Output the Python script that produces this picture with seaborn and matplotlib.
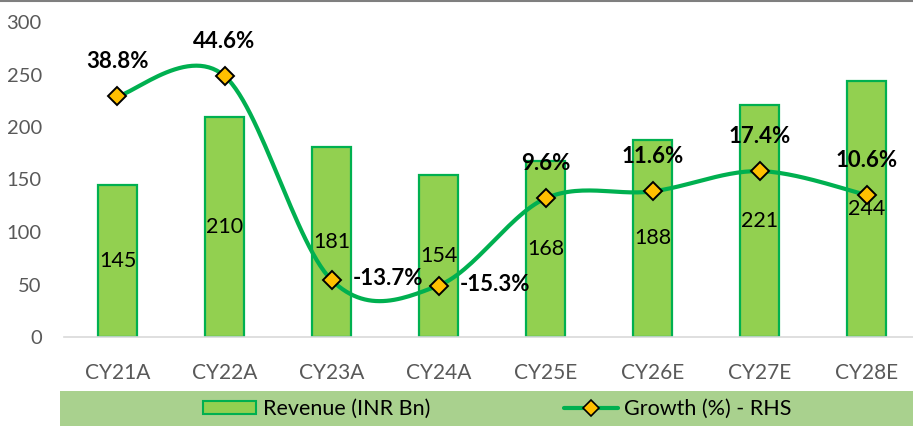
import numpy as np
import matplotlib
matplotlib.use("Agg")
import matplotlib.pyplot as plt
import seaborn as sns
import pandas as pd
from matplotlib.patches import Rectangle, Patch
from matplotlib.lines import Line2D

# chart data
years = ["CY21A", "CY22A", "CY23A", "CY24A", "CY25E", "CY26E", "CY27E", "CY28E"]
revenue = [145, 210, 181, 154, 168, 188, 221, 244]
growth = [38.8, 44.6, -13.7, -15.3, 9.6, 11.6, 17.4, 10.6]

bar_fill = "#92D050"
dark_green = "#00B050"
gold = "#FFC000"
grey = "#595959"

sns.set_style("white")
plt.rcParams["font.family"] = ["Lato", "DejaVu Sans"]
plt.rcParams["text.color"] = "black"

df = pd.DataFrame({"year": years, "revenue": revenue, "growth": growth})

fig = plt.figure(figsize=(9.13, 4.26), dpi=100)
ax = fig.add_axes([64 / 913, (426 - 337) / 426, 856 / 913, 315 / 426])

sns.barplot(data=df, x="year", y="revenue", color=bar_fill, edgecolor=dark_green,
            linewidth=1.6, width=0.37, saturation=1, ax=ax)
ax.set_ylim(0, 300)
ax.set_xlim(-0.5, 7.5)
ax.set_yticks(range(0, 301, 50))
ax.set_xlabel("")
ax.set_ylabel("")
ax.tick_params(axis="both", labelcolor=grey, length=0)
ax.tick_params(axis="x", pad=19, labelsize=15)
ax.tick_params(axis="y", pad=16, labelsize=14.5)
for s in ["top", "right", "left"]:
    ax.spines[s].set_visible(False)
ax.spines["bottom"].set_color("#D9D9D9")
ax.spines["bottom"].set_linewidth(1.2)

for i, v in enumerate(revenue):
    ax.text(i, v / 2, str(v), ha="center", va="center", fontsize=15.5, color="black")

# growth on hidden secondary axis, smoothed like Excel
ax2 = ax.twinx()
ax2.set_ylim(-30, 60)
ax2.set_yticks([])
for s in ax2.spines.values():
    s.set_visible(False)

xs = np.arange(len(growth), dtype=float)
ys = np.array(growth, dtype=float)
px = np.concatenate([[xs[0]], xs, [xs[-1]]])
py = np.concatenate([[ys[0]], ys, [ys[-1]]])
cx, cy = [], []
t = np.linspace(0, 1, 30)
for k in range(1, len(px) - 2):
    p0 = np.array([px[k], py[k]])
    p3 = np.array([px[k + 1], py[k + 1]])
    c1 = p0 + (np.array([px[k + 1], py[k + 1]]) - np.array([px[k - 1], py[k - 1]])) / 6
    c2 = p3 - (np.array([px[k + 2], py[k + 2]]) - np.array([px[k], py[k]])) / 6
    for tt in t:
        b = ((1 - tt) ** 3) * p0 + 3 * ((1 - tt) ** 2) * tt * c1 + 3 * (1 - tt) * tt ** 2 * c2 + tt ** 3 * p3
        cx.append(b[0])
        cy.append(b[1])
ax2.plot(cx, cy, color=dark_green, linewidth=3, solid_capstyle="round", zorder=3)
ax2.plot(xs, ys, linestyle="none", marker="D", markersize=9.5, markerfacecolor=gold,
         markeredgecolor="black", markeredgewidth=1.4, zorder=4)

for i, g in enumerate(growth):
    if g < 0:
        ax2.annotate(f"{g:.1f}%", (i, g), xytext=(15, 1), textcoords="offset points",
                     ha="left", va="center", fontsize=16, fontweight="bold", color="black")
    else:
        ax2.annotate(f"{g:.1f}%", (i, g), xytext=(0, 25), textcoords="offset points",
                     ha="center", va="center", fontsize=16, fontweight="bold", color="black")

# legend band
fig.patches.append(Rectangle((60 / 913, 0), 853 / 913, 35 / 426, transform=fig.transFigure,
                             facecolor="#A9D18E", edgecolor="none", zorder=0))
handles = [
    Patch(facecolor=bar_fill, edgecolor=dark_green, linewidth=1.5, label="Revenue (INR Bn)"),
    Line2D([0], [0], color=dark_green, linewidth=3, marker="D", markersize=8,
           markerfacecolor=gold, markeredgecolor="black", markeredgewidth=1.2,
           label="Growth (%) - RHS"),
]
fig.legend(handles=handles, loc="center", bbox_to_anchor=(497 / 913, 17 / 426), ncol=2,
           frameon=False, fontsize=15.5, handlelength=2.5, handleheight=0.6,
           handletextpad=0.3, columnspacing=6.2, labelcolor="black")

fig.add_artist(Line2D([0, 1], [0.998, 0.998], transform=fig.transFigure, color="#7F7F7F", linewidth=1.5))

fig.savefig("out.png", dpi=100)
